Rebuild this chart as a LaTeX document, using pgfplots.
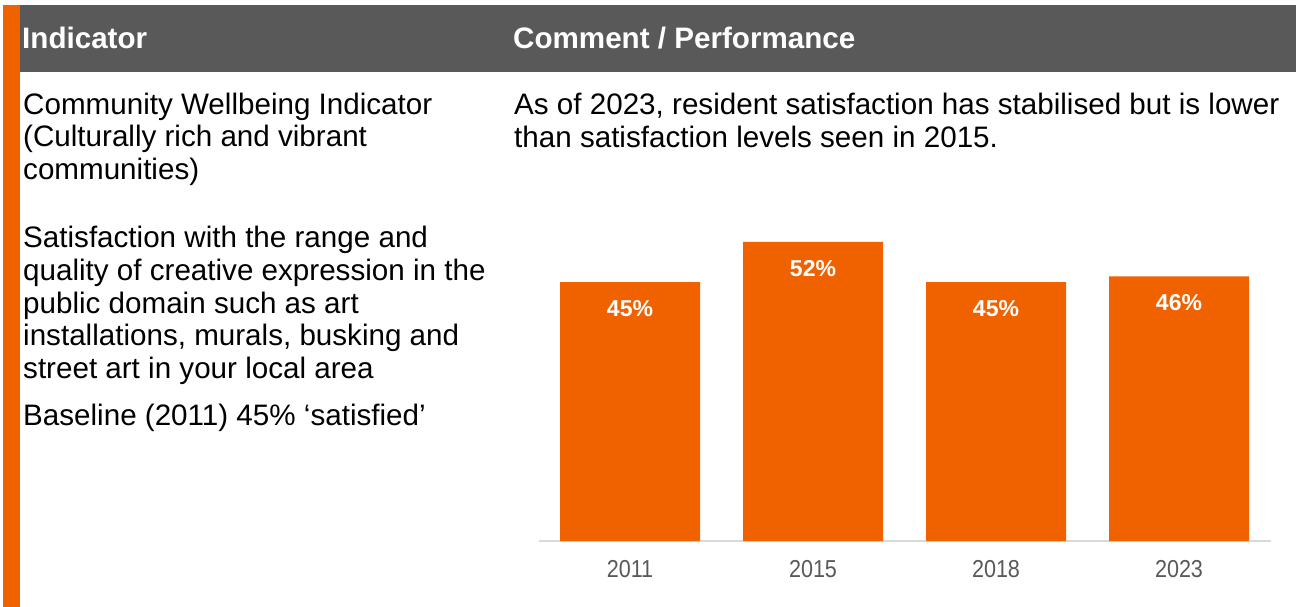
\documentclass[border=0pt]{standalone}
\usepackage{fontspec}
\setmainfont{Liberation Sans}
\newfontfamily\narrowfont[FakeStretch=0.88]{Liberation Sans}
\usepackage{pgfplots}
\pgfplotsset{compat=1.18}

\definecolor{barorange}{RGB}{240,97,0}
\definecolor{headgray}{RGB}{89,89,89}
\definecolor{axisgray}{RGB}{217,217,217}
\definecolor{tickgray}{RGB}{89,89,89}

\newcommand{\bodyfont}{\fontsize{29.6}{32.6}\selectfont}
\newcommand{\headfont}{\fontsize{29.6}{32}\selectfont\bfseries}

\begin{document}
\begin{tikzpicture}[x=1pt,y=1pt]
\useasboundingbox (0,0) rectangle (1296,-607);
\fill[white] (0,0) rectangle (1296,-607);

% header bar and side stripe
\fill[headgray] (19,-5) rectangle (1296,-72);
\fill[barorange] (3,-5) rectangle (20,-607);

\node[anchor=base west, inner sep=0, text=white, font=\headfont] at (22,-49) {Indicator};
\node[anchor=base west, inner sep=0, text=white, font=\headfont] at (513,-49) {Comment / Performance};

% left column
\begin{scope}[every node/.style={anchor=base west, inner sep=0, font=\bodyfont}]
\node at (23,-115) {Community Wellbeing Indicator};
\node at (23,-147) {(Culturally rich and vibrant};
\node at (23,-179) {communities)};
\node at (23,-247) {Satisfaction with the range and};
\node at (23,-280) {quality of creative expression in the};
\node at (23,-313) {public domain such as art};
\node at (23,-345) {installations, murals, busking and};
\node at (23,-378) {street art in your local area};
\node at (23,-425) {Baseline (2011) 45\% ‘satisfied’};
% right column
\node at (514,-115) {As of 2023, resident satisfaction has stabilised but is lower};
\node at (514,-148) {than satisfaction levels seen in 2015.};
\end{scope}

\begin{axis}[
    at={(538.5pt,-541pt)}, anchor=south west,
    scale only axis,
    width=732pt, height=345.2pt,
    xmin=-0.5, xmax=3.5,
    ymin=0, ymax=60,
    axis x line*=bottom,
    axis y line=none,
    x axis line style={-, axisgray, line width=1.3pt},
    xtick={0,1,2,3},
    xticklabels={2011,2015,2018,2023},
    major tick length=0pt,
    xticklabel style={anchor=base, yshift=-36pt, text=tickgray,
        font=\narrowfont\fontsize{24.5}{26}\selectfont},
    ybar,
    bar width=140pt,
    /pgf/number format/assume math mode=true,
    nodes near coords={\pgfmathprintnumber{\pgfplotspointmeta}\%},
    nodes near coords style={anchor=center, yshift=-26.5pt, text=white,
        font=\fontsize{23}{25}\selectfont\bfseries},
    clip=false,
]
\addplot[fill=barorange, draw=none] coordinates {
    (0,45) (1,52) (2,45) (3,46)
};
\end{axis}
\end{tikzpicture}
\end{document}
